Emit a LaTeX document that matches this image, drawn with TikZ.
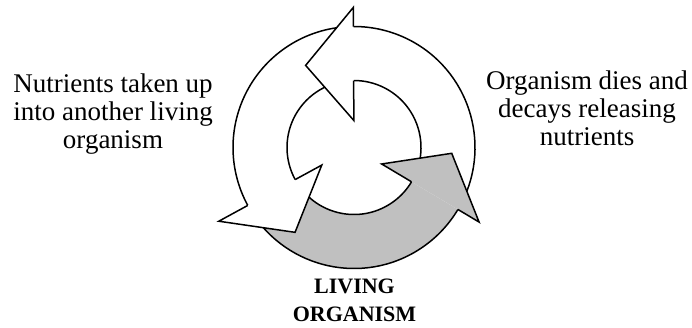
\documentclass[tikz,border=0pt]{standalone}
\usepackage{fontspec}
\setmainfont{Liberation Serif}
\definecolor{arrowgray}{RGB}{192,192,192}
\begin{document}
\begin{tikzpicture}[x=1pt,y=1pt,line width=1.5pt,line join=miter,
  sidetext/.style={align=center,anchor=base,inner sep=0pt,font=\fontsize{27}{28}\selectfont},
  bottomtext/.style={align=center,anchor=base,inner sep=0pt,font=\fontsize{22}{28}\selectfont\bfseries}]
\useasboundingbox (-354,-179.5) rectangle (338,147.5);
\def\rin{67}
\def\rout{121}
% ring segment of one arrow: tail angle, head angle, fill colour
\newcommand\ringbody[3]{%
  \fill[#3] (#1:\rout) arc[start angle=#1,end angle=#2,radius=\rout]
    -- (#2:\rin) arc[start angle=#2,end angle=#1,radius=\rin] -- cycle;
  \draw (#1:\rout) arc[start angle=#1,end angle=#2,radius=\rout];
  \draw (#1:\rin) arc[start angle=#1,end angle=#2,radius=\rin];
}
% head of one arrow: base angle, inner barb radius, outer barb radius,
% tip angle, tip radius, fill colour
\newcommand\ringhead[6]{%
  \fill[#6] (#1:#2) -- (#4:#5) -- (#1:#3) -- cycle;
  \draw (#1:\rin) -- (#1:#2) -- (#4:#5) -- (#1:#3) -- (#1:\rout);
}
% bodies first, so that every head lies over the tail of the arrow before it
\ringbody{-26.8}{90.3}{white}
\ringbody{94.3}{208.6}{white}
\ringbody{212.6}{329.2}{arrowgray}
\ringhead{90.3}{27}{140}{120.5}{95.3}{white}
\ringhead{208.6}{36.7}{154}{235.2}{103.3}{white}
\ringhead{329.2}{32.2}{145.6}{356.6}{97.9}{arrowgray}

% multi-line nodes sit on the baseline of their last line
\node[sidetext] (uptake) at (-241,-0.5) {Nutrients taken up\\into another living\\organism};
\node[sidetext] (decay) at (233,2) {Organism dies and\\decays releasing\\nutrients};
\node[bottomtext] (living) at (0.5,-174.2) {LIVING\\ORGANISM};
\end{tikzpicture}
\end{document}
